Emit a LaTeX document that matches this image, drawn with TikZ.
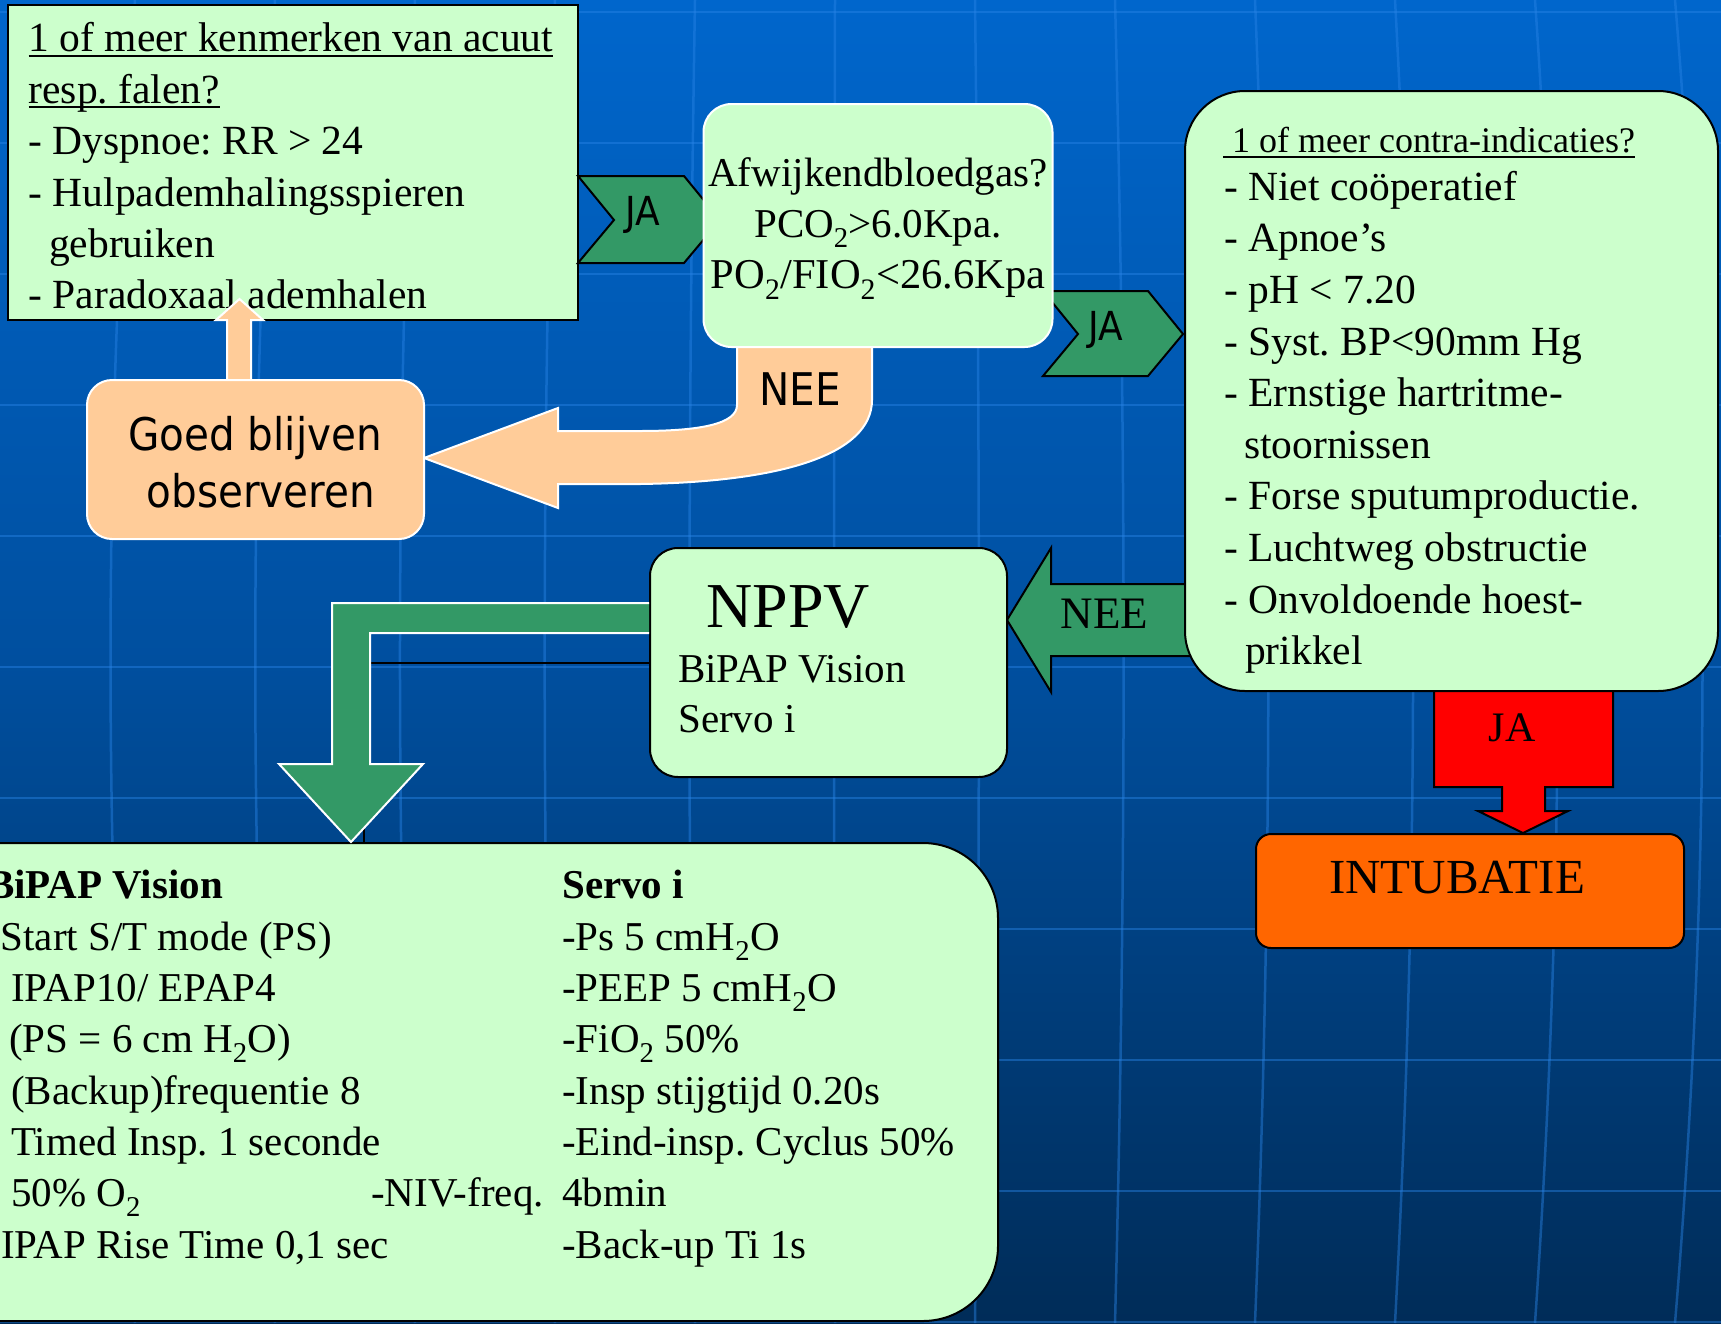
\documentclass[tikz,border=0pt]{standalone}
\usepackage{fontspec}
\setmainfont{Liberation Serif}
\newfontfamily\sansx[FakeStretch=0.9]{DejaVu Sans}
\frenchspacing
\definecolor{boxgreen}{HTML}{CCFFCC}
\definecolor{arrgreen}{HTML}{339966}
\definecolor{peach}{HTML}{FFCC99}
\definecolor{intub}{HTML}{FF6600}
\definecolor{bgtop}{HTML}{0066CC}
\definecolor{bgmid}{HTML}{004F9F}
\definecolor{bgbot}{HTML}{002C58}
\definecolor{gridc}{HTML}{2A84E6}
\newcommand\myul[1]{\setbox0=\hbox{#1}\rlap{\vrule height -3pt depth 5pt width \wd0}\box0}
\begin{document}
\begin{tikzpicture}[x=1pt,y=-1pt,
  every node/.style={inner sep=0pt},
  bx/.style={draw=black,line width=2pt,fill=boxgreen},
  wbx/.style={draw=white,line width=2pt,fill=boxgreen},
  tx/.style={anchor=base west,font=\fontsize{41.5}{50}\selectfont},
  txb/.style={anchor=base west,font=\fontsize{41}{50}\selectfont},
  tc/.style={anchor=base,font=\fontsize{41}{50}\selectfont},
  gridline/.style={draw=gridc,line width=2.5pt,opacity=0.45},
  blockarrow/.style={fill=arrgreen,draw=black,line width=2pt,line join=miter},
  peacharrow/.style={fill=peach,draw=white,line width=2pt}]
\useasboundingbox (0,0) rectangle (1721,1323);
% background
\shade[top color=bgtop,bottom color=bgbot,middle color=bgmid] (0,0) rectangle (1721,1323);
\foreach \k in {0,...,10} \draw[gridline] (0,{12+131*\k}) -- (1721,{12+131*\k});
\foreach \k in {0,...,12} {
  \pgfmathsetmacro\xa{-5+140*\k}
  \pgfmathsetmacro\bb{0.045*(\xa-860)}
  \draw[gridline] (\xa,0) .. controls ({\xa+\bb},440) and ({\xa+\bb},880) .. (\xa,1323);
}
% box 1
\node[bx,minimum width=570pt,minimum height=315pt] (b1) at (293,162.5) {};
\node[tx] (b1a) at (28.5,51.6) {\myul{1 of meer kenmerken van acuut}};
\node[tx] (b1b) at (28.5,103) {\myul{resp. falen?}};
\node[tx] (b1c) at (28.5,154.8) {- Dyspnoe: RR > 24};
\node[tx] (b1d) at (28.5,206) {- Hulpademhalingsspieren};
\node[tx] (b1e) at (49,257) {gebruiken};
\node[tx] (b1f) at (28.5,308.4) {- Paradoxaal ademhalen};
% chevrons
\filldraw[blockarrow] (578,176) -- (684,176) -- (720,220) -- (684,263) -- (578,263) -- (614,220) -- cycle;
\node[anchor=base,font=\sansx\fontsize{40}{40}\selectfont] (ja1) at (643,225) {JA};
\filldraw[blockarrow] (1043,291) -- (1148,291) -- (1183,334) -- (1148,376) -- (1043,376) -- (1078,334) -- cycle;
\node[anchor=base,font=\sansx\fontsize{40}{40}\selectfont] (ja2) at (1106,340) {JA};
% orange NEE arrow
\filldraw[peacharrow] (737,345) -- (737,405) .. controls (737,424) and (700,431) .. (640,431) -- (558,431) -- (558,408) -- (424,458) -- (558,508) -- (558,484) -- (640,484) .. controls (780,482) and (872,455) .. (872,400) -- (872,345);
\node[anchor=base,font=\sansx\fontsize{45}{45}\selectfont] (nee1) at (800,405) {NEE};
% box 2
\node[wbx,rounded corners=28pt,minimum width=349pt,minimum height=243pt] (b2) at (878,225.5) {};
\node[tc] (b2a) at (878,186) {Afwijkendbloedgas?};
\node[tc] (b2b) at (878,237) {PCO\textsubscript{2}>6.0Kpa.};
\node[tc,font=\fontsize{42.5}{50}\selectfont] (b2c) at (878,288) {PO\textsubscript{2}/FIO\textsubscript{2}<26.6Kpa};
% up arrow + goed box
\filldraw[peacharrow] (227,382) -- (227,320) -- (216,320) -- (239.5,299) -- (263,320) -- (251,320) -- (251,382);
\node[draw=white,line width=2pt,fill=peach,rounded corners=25pt,minimum width=337pt,minimum height=159pt] (goed) at (255.5,459.5) {};
\node[anchor=base,font=\sansx\fontsize{45}{45}\selectfont] (goeda) at (255,450) {Goed blijven};
\node[anchor=base,font=\sansx\fontsize{45}{45}\selectfont] (goedb) at (261,507) {observeren};
% green NEE arrow and red arrow
\filldraw[blockarrow] (1190,584) -- (1051,584) -- (1051,548) -- (1007,620) -- (1051,692) -- (1051,656) -- (1190,656);
\node[anchor=base,font=\fontsize{45}{45}\selectfont] (nee2) at (1104.5,628) {NEE};
\filldraw[fill=red,draw=black,line width=2pt] (1434,685) -- (1613,685) -- (1613,787) -- (1545,787) -- (1545,811) -- (1568,811) -- (1523,833) -- (1478,811) -- (1502,811) -- (1502,787) -- (1434,787) -- cycle;
\node[anchor=base,font=\fontsize{42}{42}\selectfont] (ja3) at (1512,741) {JA};
% box 3
\node[bx,rounded corners=60pt,minimum width=533pt,minimum height=600pt] (b3) at (1451.5,391) {};
\node[anchor=base west,font=\fontsize{36}{40}\selectfont] (b3t) at (1223,152.5) {\myul{\ 1 of meer contra-indicaties?}};
\node[tx] (b3a) at (1224,200) {- Niet coöperatief};
\node[tx] (b3b) at (1224,251.5) {- Apnoe’s};
\node[tx] (b3c) at (1224,303) {- pH < 7.20};
\node[tx] (b3d) at (1224,355) {- Syst. BP<90mm Hg};
\node[tx] (b3e) at (1224,406.5) {- Ernstige hartritme-};
\node[tx] (b3f) at (1244,458) {stoornissen};
\node[tx] (b3g) at (1224,509.5) {- Forse sputumproductie.};
\node[tx] (b3h) at (1224,561) {- Luchtweg obstructie};
\node[tx] (b3i) at (1224,613) {- Onvoldoende hoest-};
\node[tx] (b3j) at (1245,664.5) {prikkel};
% intubatie
\node[draw=black,line width=2pt,fill=intub,rounded corners=15pt,minimum width=428pt,minimum height=114pt] (intu) at (1470,891) {};
\node[anchor=base,font=\fontsize{49}{49}\selectfont] (intut) at (1457,893) {INTUBATIE};
% bottom box
\node[bx,rounded corners=75pt,minimum width=1078pt,minimum height=478pt] (b4) at (459,1082) {};
\node[txb,font=\fontsize{41}{50}\selectfont\bfseries] (b4h1) at (-13,898) {BiPAP Vision};
\node[txb,font=\fontsize{41}{50}\selectfont\bfseries] (b4h2) at (562,898) {Servo i};
\node[txb] (b4l1) at (0.5,950) {Start S/T mode (PS)};
\node[txb] (b4l2) at (11,1001.5) {IPAP10/ EPAP4};
\node[txb] (b4l3) at (9,1052) {(PS = 6 cm H\textsubscript{2}O)};
\node[txb] (b4l4) at (11,1104) {(Backup)frequentie 8};
\node[txb] (b4l5) at (11,1155) {Timed Insp. 1 seconde};
\node[txb] (b4l6) at (11,1206.5) {50\% O\textsubscript{2}};
\node[txb] (b4l7) at (1,1258) {IPAP Rise Time 0,1 sec};
\node[txb] (b4r1) at (562,950) {-Ps 5 cmH\textsubscript{2}O};
\node[txb] (b4r2) at (562,1001.5) {-PEEP 5 cmH\textsubscript{2}O};
\node[txb] (b4r3) at (562,1052) {-FiO\textsubscript{2} 50\%};
\node[txb] (b4r4) at (562,1104) {-Insp stijgtijd 0.20s};
\node[txb] (b4r5) at (562,1155) {-Eind-insp. Cyclus 50\%};
\node[txb] (b4r6) at (371,1206.5) {\makebox[191pt][l]{-NIV-freq.}4bmin};
\node[txb] (b4r7) at (562,1258) {-Back-up Ti 1s};
% NPPV box and connector
\coordinate (elb) at (364,843);
\node[bx,rounded corners=28pt,minimum width=357pt,minimum height=229pt] (nppv) at (828.5,662.5) {};
\draw[black,line width=2pt] (nppv.west) -| (elb);
\filldraw[fill=arrgreen,draw=white,line width=2pt] (649,603) -- (332,603) -- (332,764) -- (279,764) -- (351,842) -- (423,764) -- (370,764) -- (370,633) -- (649,633);
\node[anchor=base west,font=\fontsize{64}{64}\selectfont] (nppvt) at (706,627) {NPPV};
\node[anchor=base west,font=\fontsize{41}{48}\selectfont] (nppva) at (678,682) {BiPAP Vision};
\node[anchor=base west,font=\fontsize{41}{48}\selectfont] (nppvb) at (678,732) {Servo i};
\end{tikzpicture}
\end{document}
